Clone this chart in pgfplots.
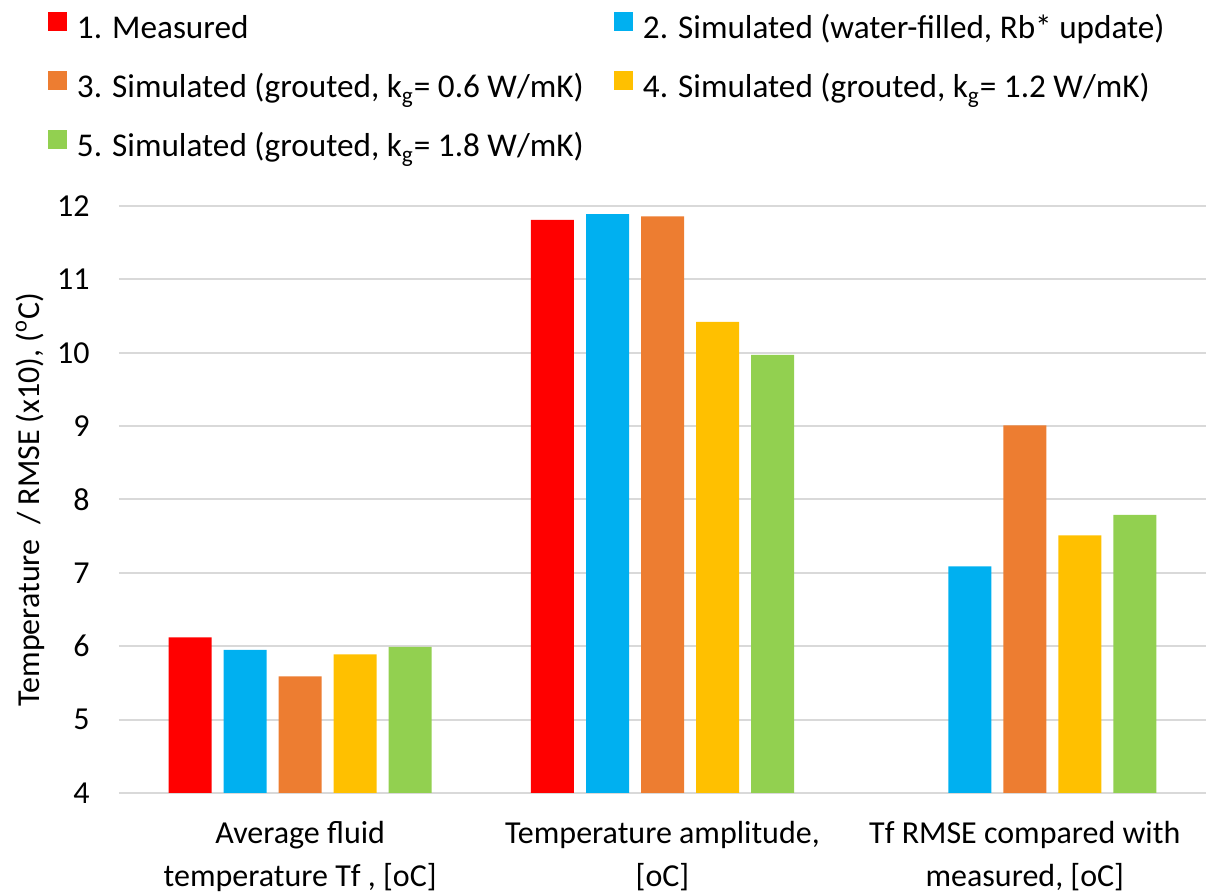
\documentclass[border=0pt]{standalone}
\usepackage{pgfplots}
\pgfplotsset{compat=1.18}
\usepackage{fontspec}
\setmainfont{Carlito}
\definecolor{cRed}{HTML}{FF0000}
\definecolor{cBlue}{HTML}{00B0F0}
\definecolor{cOrange}{HTML}{ED7D31}
\definecolor{cYellow}{HTML}{FFC000}
\definecolor{cGreen}{HTML}{92D050}
\definecolor{cGrid}{HTML}{D9D9D9}
\begin{document}
\begin{tikzpicture}[font=\fontsize{16}{20}\selectfont]
\path[use as bounding box] (-59.5pt,-49.5pt) rectangle (543.5pt,396.5pt);
\begin{axis}[
  at={(0,0)}, anchor=south west,
  scale only axis,
  width=543.5pt, height=293.5pt,
  ybar=6pt, bar width=21.5pt,
  xmin=-0.5, xmax=2.5,
  ymin=4, ymax=12,
  ytick={4,5,...,12},
  xtick={0,1,2},
  xticklabels={{Average fluid\\temperature Tf , [oC]},{Temperature amplitude,\\{}[oC]},{Tf RMSE compared with\\measured, [oC]}},
  xticklabel style={align=center, font=\fontsize{16}{21.5}\selectfont, anchor=north, inner sep=0pt, yshift=-14pt},
  yticklabel style={anchor=east, inner sep=0pt, xshift=-14.5pt},
  /pgf/number format/assume math mode=true,
  axis line style={draw=none},
  tick style={draw=none},
  major tick length=0pt,
  ymajorgrids,
  grid style={draw=cGrid, line width=1pt},
  ylabel={Temperature \ / RMSE (x10), (\textsuperscript{o}C)},
  every axis y label/.style={at={([xshift=-44.5pt]rel axis cs:0,0.5)}, rotate=90, anchor=center},
  legend columns=2,
  legend image code/.code={\fill[#1] (0pt,0.5pt) rectangle (9.5pt,10pt);},
  legend style={at={([xshift=-35.5pt,yshift=97pt]rel axis cs:0,1)}, anchor=north west,
    draw=none, fill=none, inner sep=0pt, outer sep=0pt,
    font=\fontsize{16.6}{20}\selectfont,
    nodes={inner sep=0pt, anchor=west, text height=11pt, text depth=4pt},
    row sep=12pt,
    /tikz/every odd column/.style={column sep=5pt},
    /tikz/every even column/.style={column sep=0pt}},
  legend cell align=left,
]
\addplot[fill=cRed, draw=none] coordinates {(0,6.12) (1,11.81)};
\addlegendentry{\makebox[268.5pt][l]{1. Measured}}
\addplot[fill=cBlue, draw=none] coordinates {(0,5.95) (1,11.89) (2,7.09)};
\addlegendentry{2. Simulated (water-filled, Rb* update)}
\addplot[fill=cOrange, draw=none] coordinates {(0,5.59) (1,11.86) (2,9.01)};
\addlegendentry{\makebox[268.5pt][l]{3. Simulated (grouted, k\textsubscript{g}= 0.6 W/mK)}}
\addplot[fill=cYellow, draw=none] coordinates {(0,5.89) (1,10.42) (2,7.51)};
\addlegendentry{4. Simulated (grouted, k\textsubscript{g}= 1.2 W/mK)}
\addplot[fill=cGreen, draw=none] coordinates {(0,5.99) (1,9.97) (2,7.79)};
\addlegendentry{\makebox[268.5pt][l]{5. Simulated (grouted, k\textsubscript{g}= 1.8 W/mK)}}
\end{axis}
\end{tikzpicture}
\end{document}
